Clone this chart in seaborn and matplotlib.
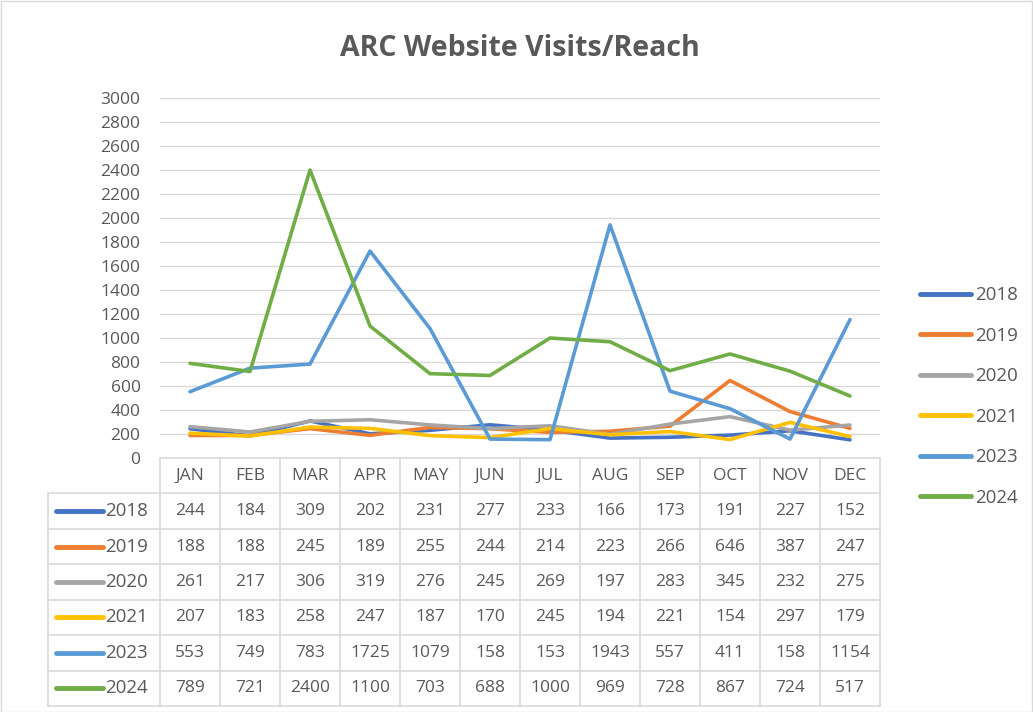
import pandas as pd
import matplotlib.pyplot as plt
import seaborn as sns
from matplotlib.patches import Rectangle

months = ['JAN', 'FEB', 'MAR', 'APR', 'MAY', 'JUN', 'JUL', 'AUG', 'SEP', 'OCT', 'NOV', 'DEC']
years = ['2018', '2019', '2020', '2021', '2023', '2024']
v2018 = [244, 184, 309, 202, 231, 277, 233, 166, 173, 191, 227, 152]
v2019 = [188, 188, 245, 189, 255, 244, 214, 223, 266, 646, 387, 247]
v2020 = [261, 217, 306, 319, 276, 245, 269, 197, 283, 345, 232, 275]
v2021 = [207, 183, 258, 247, 187, 170, 245, 194, 221, 154, 297, 179]
v2023 = [553, 749, 783, 1725, 1079, 158, 153, 1943, 557, 411, 158, 1154]
v2024 = [789, 721, 2400, 1100, 703, 688, 1000, 969, 728, 867, 724, 517]
colors = ['#4472C4', '#ED7D31', '#A5A5A5', '#FFC000', '#5B9BD5', '#70AD47']

series = [v2018, v2019, v2020, v2021, v2023, v2024]
rows = []
for y, vals in zip(years, series):
    for i, v in enumerate(vals):
        rows.append({'year': y, 'month': i, 'visits': v})
df = pd.DataFrame(rows)

sns.set_theme(style='white')
plt.rcParams['font.family'] = ['Open Sans', 'DejaVu Sans']
txt = '#595959'
grid = '#d9d9d9'

fig = plt.figure(figsize=(10.33, 7.12), dpi=100)
fig.patches.append(Rectangle((0.001, 0.0), 0.998, 0.998, transform=fig.transFigure,
                             fill=False, edgecolor=grid, linewidth=1))

ax = fig.add_axes([0.1549, 0.3567, 0.697, 0.5056])
sns.lineplot(data=df, x='month', y='visits', hue='year', palette=colors,
             linewidth=2.6, ax=ax, legend=False)
ax.set_xlim(-0.5, 11.5)
ax.set_ylim(0, 3000)
ax.set_yticks(range(0, 3001, 200))
ax.set_xticks([])
ax.set_xlabel('')
ax.set_ylabel('')
ax.yaxis.grid(True, color=grid, linewidth=1)
for s in ax.spines.values():
    s.set_visible(False)
ax.tick_params(axis='y', length=0, pad=14, labelsize=12.5, labelcolor=txt)
fig.text(0.5035, 0.932, 'ARC Website Visits/Reach', fontsize=20.5, fontweight='bold',
         color=txt, ha='center', va='center')

# legend on the right
handles = [plt.Line2D([], [], color=c, linewidth=3.5) for c in colors]
fig.legend(handles, years, loc='center left', bbox_to_anchor=(0.874, 0.443),
           frameon=False, handlelength=2.75, labelspacing=1.2, fontsize=13.5,
           labelcolor=txt, handletextpad=0.2)

# data table below
tab = fig.add_axes([0.1549, 0.0084, 0.697, 0.3483])
tab.set_xlim(-0.5, 11.5)
tab.set_ylim(7, 0)
tab.axis('off')
lab_left = -0.5 - 112 / 60
kw = dict(color=grid, linewidth=1.2, clip_on=False)
tab.plot([-0.5, 11.5], [0, 0], **kw)
for r in range(1, 8):
    tab.plot([lab_left, 11.5], [r, r], **kw)
for c in range(13):
    tab.plot([c - 0.5, c - 0.5], [0, 7], **kw)
tab.plot([lab_left, lab_left], [1, 7], **kw)
for i, m in enumerate(months):
    tab.text(i, 0.5, m, ha='center', va='center', fontsize=12.5, color=txt)
for r, (y, vals, c) in enumerate(zip(years, series, colors)):
    yy = r + 1.5
    tab.plot([lab_left + 0.13, lab_left + 0.92], [yy, yy], color=c,
             linewidth=3.5, solid_capstyle='round', clip_on=False)
    tab.text(lab_left + 0.95, yy, y, ha='left', va='center', fontsize=13.5,
             color=txt, clip_on=False)
    for i, v in enumerate(vals):
        tab.text(i, yy, str(v), ha='center', va='center', fontsize=12.5, color=txt)

fig.savefig('out.png', dpi=100)
